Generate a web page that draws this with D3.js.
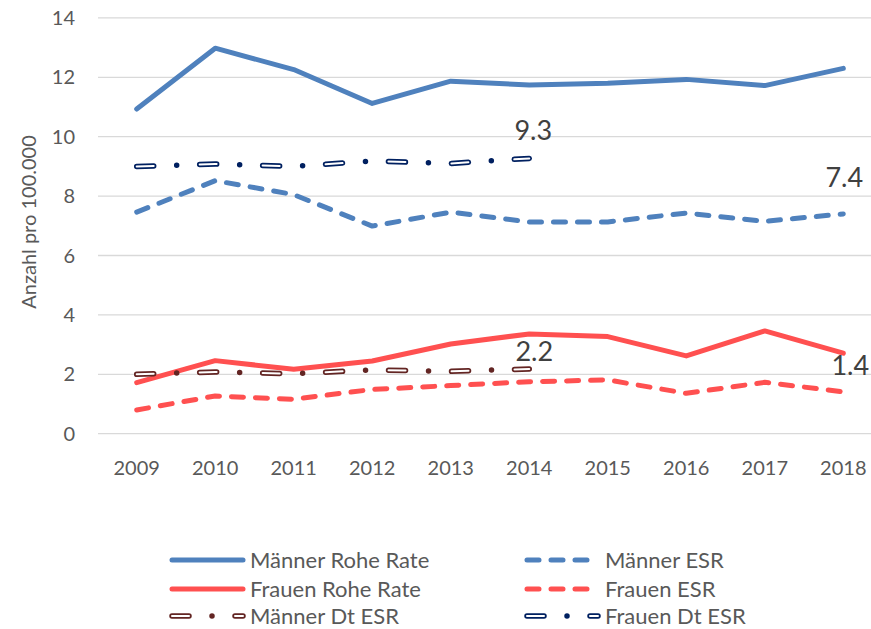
<!DOCTYPE html>
<html>
<head>
<meta charset="utf-8">
<script src="https://cdn.jsdelivr.net/npm/d3@7"></script>
<style>
  body { margin: 0; background: #fff; }
  svg { display: block; font-family: Lato, "Open Sans", sans-serif; }
</style>
</head>
<body>
<div id="chart"></div>
<script>
// values
const years = ["2009", "2010", "2011", "2012", "2013", "2014", "2015", "2016", "2017", "2018"];
const maennerRohe = [10.93, 12.98, 12.26, 11.12, 11.87, 11.74, 11.8, 11.93, 11.72, 12.3];
const maennerESR = [7.46, 8.52, 8.05, 6.99, 7.46, 7.13, 7.13, 7.43, 7.15, 7.4];
const frauenRohe = [1.72, 2.46, 2.17, 2.45, 3.02, 3.36, 3.27, 2.62, 3.46, 2.71];
const frauenESR = [0.8, 1.27, 1.16, 1.49, 1.62, 1.75, 1.81, 1.36, 1.73, 1.41];
const maennerDtESR = [2.0, 2.08, 2.02, 2.15, 2.1, 2.18, null, null, null, null];
const frauenDtESR = [9.0, 9.08, 9.0, 9.18, 9.1, 9.27, null, null, null, null];
const yTicks = [0, 2, 4, 6, 8, 10, 12, 14];

// name, values, colour, style, legend column/row
const series = [
  { name: "Männer Rohe Rate", values: maennerRohe, color: "#4F81BD", style: "solid", col: 0, row: 0 },
  { name: "Männer ESR", values: maennerESR, color: "#4F81BD", style: "dash", col: 1, row: 0 },
  { name: "Frauen Rohe Rate", values: frauenRohe, color: "#FF5050", style: "solid", col: 0, row: 1 },
  { name: "Frauen ESR", values: frauenESR, color: "#FF5050", style: "dash", col: 1, row: 1 },
  { name: "Männer Dt ESR", values: maennerDtESR, color: "#632523", style: "hollow", col: 0, row: 2 },
  { name: "Frauen Dt ESR", values: frauenDtESR, color: "#002060", style: "hollow", col: 1, row: 2 }
];

// data labels: series, year, text
const dataLabels = [
  { series: "Frauen Dt ESR", year: "2014", text: "9.3" },
  { series: "Männer ESR", year: "2018", text: "7.4" },
  { series: "Männer Dt ESR", year: "2014", text: "2.2" },
  { series: "Frauen ESR", year: "2018", text: "1.4" }
];

const width = 871, height = 629;

const svg = d3.select("#chart").append("svg")
  .attr("width", width)
  .attr("height", height);

const x = d3.scalePoint().domain(years).range([136.7, 843.3]);
const y = d3.scaleLinear().domain([0, 14]).range([433.7, 17.9]);

// gridlines
svg.append("g").selectAll("line")
  .data(yTicks)
  .enter().append("line")
  .attr("x1", 98).attr("x2", width)
  .attr("y1", d => y(d)).attr("y2", d => y(d))
  .style("stroke", "#D9D9D9")
  .style("stroke-width", 1.3);

// y axis labels
svg.append("g").selectAll("text")
  .data(yTicks)
  .enter().append("text")
  .attr("x", 75)
  .attr("y", d => y(d))
  .attr("dy", "0.35em")
  .attr("text-anchor", "end")
  .style("font-size", "20px")
  .style("fill", "#595959")
  .text(d => d);

// x axis labels
svg.append("g").selectAll("text")
  .data(years)
  .enter().append("text")
  .attr("x", d => x(d))
  .attr("y", 475)
  .attr("text-anchor", "middle")
  .style("font-size", "20px")
  .style("fill", "#595959")
  .text(d => d);

// y axis title
svg.append("text")
  .attr("transform", "translate(36,222) rotate(-90)")
  .attr("text-anchor", "middle")
  .style("font-size", "20px")
  .style("fill", "#595959")
  .text("Anzahl pro 100.000");

const line = d3.line()
  .defined(d => d.v != null)
  .x(d => x(d.year))
  .y(d => y(d.v));

function strokeLine(sel, s, d) {
  if (s.style === "hollow") {
    sel.append("path").attr("d", d)
      .style("fill", "none").style("stroke", s.color)
      .style("stroke-width", 5.5).style("stroke-linecap", "round").style("stroke-linejoin", "round")
      .style("stroke-dasharray", "17,23,0,23");
    sel.append("path").attr("d", d)
      .style("fill", "none").style("stroke", "#fff")
      .style("stroke-width", 2).style("stroke-linecap", "round").style("stroke-linejoin", "round")
      .style("stroke-dasharray", "17,46");
  } else {
    sel.append("path").attr("d", d)
      .style("fill", "none").style("stroke", s.color)
      .style("stroke-width", 5).style("stroke-linecap", "round").style("stroke-linejoin", "round")
      .style("stroke-dasharray", s.style === "dash" ? "12,12" : null);
  }
}

// lines, drawn in the reference order
const drawOrder = ["Männer Rohe Rate", "Männer ESR", "Frauen Rohe Rate", "Frauen ESR", "Männer Dt ESR", "Frauen Dt ESR"];
drawOrder.forEach(name => {
  const s = series.find(e => e.name === name);
  const pts = years.map((yr, i) => ({ year: yr, v: s.values[i] }));
  strokeLine(svg.append("g"), s, line(pts));
});

// data labels (small nudges to match the reference placement)
const labelNudge = { "9.3": [4, -18], "7.4": [1, -27], "2.2": [5, -8], "1.4": [7, -17] };
dataLabels.forEach(l => {
  const s = series.find(e => e.name === l.series);
  const v = s.values[years.indexOf(l.year)];
  const n = labelNudge[l.text];
  svg.append("text")
    .attr("x", x(l.year) + n[0])
    .attr("y", y(v) + n[1])
    .attr("text-anchor", "middle")
    .style("font-size", "27px")
    .style("fill", "#404040")
    .text(l.text);
});

// legend
const legendCols = [172, 527];
const legendRows = [560, 589, 616];
const sampleLen = 71;
const legend = svg.append("g");
series.forEach(s => {
  const lx = legendCols[s.col], ly = legendRows[s.row];
  strokeLine(legend.append("g"), s, `M${lx},${ly}H${lx + sampleLen}`);
  legend.append("text")
    .attr("x", lx + sampleLen + 7)
    .attr("y", ly)
    .attr("dy", "0.35em")
    .style("font-size", "22px")
    .style("fill", "#595959")
    .text(s.name);
});
</script>
</body>
</html>
